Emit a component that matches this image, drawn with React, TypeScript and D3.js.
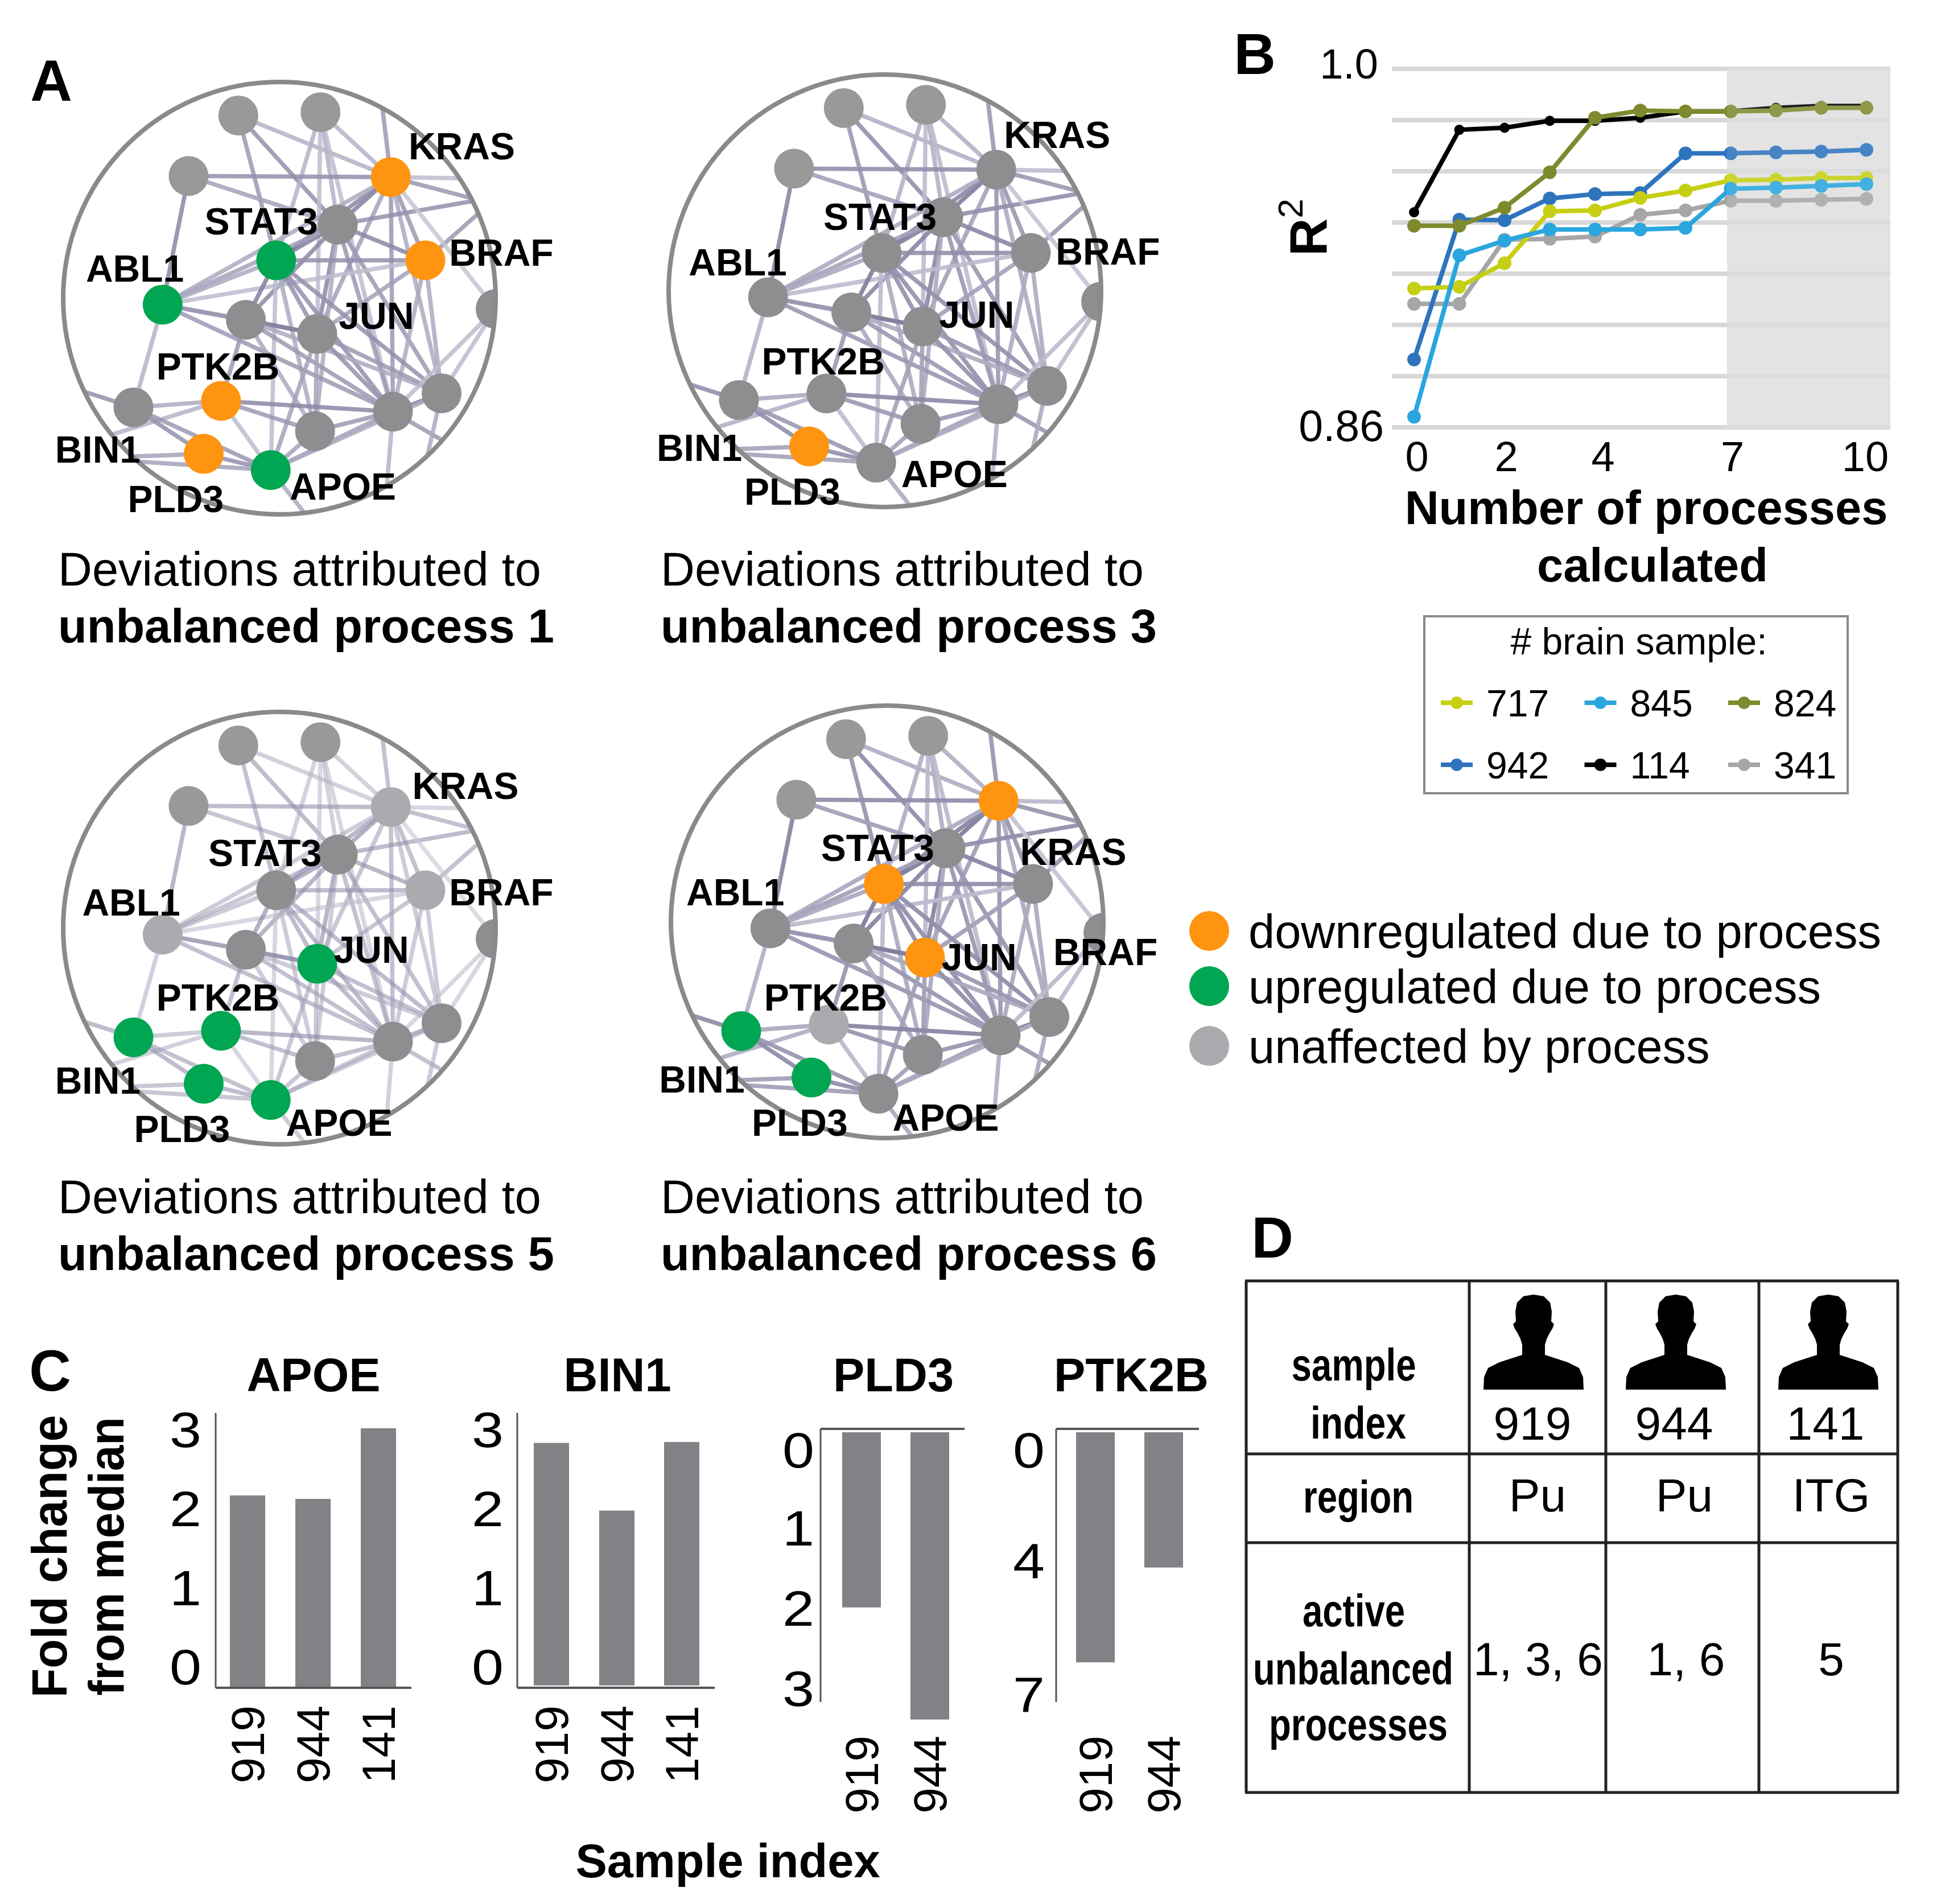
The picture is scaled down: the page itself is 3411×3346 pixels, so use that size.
import React, { useRef, useEffect } from 'react';
import * as d3 from 'd3';

const FONT = '"Liberation Sans", Arial, sans-serif';

// ---- panel A: the network layout, in units of the enclosing circle's radius
const netNodes: [string, number, number][] = [
  ['top1', -0.19, -0.845], ['top2', 0.19, -0.86], ['n3', -0.42, -0.565],
  ['KRAS', 0.515, -0.56], ['hub', 0.27, -0.34], ['BRAF', 0.675, -0.175],
  ['STAT3', -0.015, -0.175], ['ABL1', -0.54, 0.03], ['p', -0.155, 0.1],
  ['JUN', 0.175, 0.165], ['edge', 1.0, 0.05], ['r2', 0.75, 0.44],
  ['r1', 0.525, 0.525], ['b', 0.165, 0.615], ['PTK2B', -0.27, 0.475],
  ['BIN1', -0.675, 0.505], ['PLD3', -0.35, 0.72], ['APOE', -0.04, 0.795],
];
// neighbours that fall outside the circle, only their edges show
const netOuter: [string, number, number][] = [
  ['x1', 0.45, -1.1], ['x2', 1.05, -0.42], ['x3', 1.1, -0.485], ['x4', 1.1, -0.55],
  ['x5', 1.0, 0.8], ['x6', 0.2, 1.1], ['x7', -1.1, 0.37], ['x8', -1.0, 0.7],
  ['x9', 0.47, 1.2], ['x10', 0.6, 1.1], ['x11', -0.9, 0.74],
];
const netEdges: [string, string, number][] = [
  ['top1', 'KRAS', 0.4], ['top1', 'STAT3', 0.7], ['top1', 'hub', 0.8],
  ['top2', 'hub', 0.4], ['top2', 'STAT3', 0.4], ['top2', 'KRAS', 0.4], ['top2', 'JUN', 0.3], ['top2', 'r1', 0.3],
  ['n3', 'KRAS', 0.8], ['n3', 'hub', 0.6], ['n3', 'ABL1', 0.9],
  ['KRAS', 'hub', 1], ['KRAS', 'STAT3', 0.9], ['KRAS', 'BRAF', 0.7], ['KRAS', 'JUN', 0.6], ['KRAS', 'r1', 0.7],
  ['KRAS', 'r2', 0.5], ['KRAS', 'x1', 0.7], ['KRAS', 'x2', 0.7], ['KRAS', 'ABL1', 0.5], ['KRAS', 'x4', 0.3],
  ['hub', 'BRAF', 0.9], ['hub', 'STAT3', 1], ['hub', 'p', 0.9], ['hub', 'ABL1', 0.6], ['hub', 'JUN', 0.9],
  ['hub', 'r1', 0.7], ['hub', 'r2', 0.7], ['hub', 'x3', 0.8], ['hub', 'b', 0.5],
  ['BRAF', 'STAT3', 0.8], ['BRAF', 'JUN', 0.6], ['BRAF', 'x4', 0.7], ['BRAF', 'r1', 0.5], ['BRAF', 'r2', 0.5], ['BRAF', 'ABL1', 0.3],
  ['STAT3', 'ABL1', 0.5], ['STAT3', 'p', 1], ['STAT3', 'JUN', 0.8], ['STAT3', 'r1', 0.8], ['STAT3', 'r2', 0.8],
  ['STAT3', 'b', 0.5], ['STAT3', 'APOE', 0.3],
  ['ABL1', 'p', 0.8], ['ABL1', 'JUN', 0.7], ['ABL1', 'r1', 0.7], ['ABL1', 'BIN1', 0.4],
  ['p', 'JUN', 1], ['p', 'r1', 0.7], ['p', 'r2', 0.5], ['p', 'PTK2B', 0.7], ['p', 'b', 0.5],
  ['JUN', 'r1', 0.8], ['JUN', 'r2', 0.7], ['JUN', 'b', 0.6], ['JUN', 'APOE', 0.6],
  ['edge', 'r2', 0.3], ['edge', 'r1', 0.3], ['edge', 'KRAS', 0.2],
  ['r1', 'r2', 1], ['r1', 'b', 0.7], ['r1', 'PTK2B', 0.9], ['r1', 'APOE', 0.6], ['r1', 'x5', 0.7], ['r1', 'x9', 0.4],
  ['r2', 'x10', 0.5], ['r2', 'APOE', 0.5],
  ['b', 'APOE', 0.6], ['b', 'PTK2B', 0.7],
  ['PTK2B', 'BIN1', 0.5], ['PTK2B', 'APOE', 0.3], ['PTK2B', 'x8', 0.4],
  ['BIN1', 'PLD3', 0.8], ['BIN1', 'APOE', 0.7], ['BIN1', 'x7', 0.8],
  ['PLD3', 'APOE', 0.8], ['PLD3', 'x11', 0.6], ['APOE', 'x11', 0.6], ['APOE', 'x6', 0.5],
];

const netTitles = ['unbalanced process 1', 'unbalanced process 3', 'unbalanced process 5', 'unbalanced process 6'];
const netCenters: [number, number][] = [[491, 524], [1555, 511], [491, 1631], [1559, 1620]];
const netEdgeOpacity = [0.85, 0.9, 0.6, 0.95];
const netDown = [['KRAS', 'BRAF', 'PTK2B', 'PLD3'], ['PLD3'], [], ['KRAS', 'STAT3', 'JUN']];
const netUp = [['STAT3', 'ABL1', 'APOE'], [], ['JUN', 'PTK2B', 'BIN1', 'PLD3', 'APOE'], ['BIN1', 'PLD3']];
const netFaint = [[], [], ['KRAS', 'BRAF', 'ABL1'], ['PTK2B']];
const geneNames = ['KRAS', 'BRAF', 'STAT3', 'ABL1', 'JUN', 'PTK2B', 'BIN1', 'PLD3', 'APOE'];
// label centres per panel, in the 1568-wide page coordinates
const geneLabelPos: [number, number][][] = [
  [[373, 118], [405, 204], [211, 179], [109, 217], [304, 255], [176, 296], [79, 363], [142, 403], [277, 393]],
  [[854, 109], [895, 203], [711, 175], [596, 212], [789, 254], [665, 292], [565, 362], [640, 397], [771, 383]],
  [[376, 635], [405, 721], [214, 689], [106, 729], [300, 767], [176, 806], [79, 873], [147, 912], [274, 907]],
  [[867, 688], [893, 769], [709, 685], [594, 721], [791, 773], [667, 806], [567, 872], [646, 907], [764, 903]],
];

// ---- panel B
const processes = d3.range(0, 11);
const processTicks = [0, 2, 4, 7, 10];
const values717 = [0.9142, 0.9149, 0.9241, 0.9444, 0.9447, 0.9496, 0.9525, 0.9565, 0.9567, 0.9574, 0.9574];
const values845 = [0.8641, 0.9272, 0.9329, 0.9373, 0.9373, 0.9373, 0.9379, 0.9532, 0.9536, 0.9543, 0.955];
const values824 = [0.9387, 0.9387, 0.9458, 0.9596, 0.9809, 0.9837, 0.9834, 0.9834, 0.9837, 0.9848, 0.9848];
const values942 = [0.8865, 0.9411, 0.9409, 0.9494, 0.9511, 0.9515, 0.967, 0.967, 0.9674, 0.9677, 0.9684];
const values114 = [0.944, 0.9762, 0.977, 0.9797, 0.9797, 0.9809, 0.9834, 0.9834, 0.9848, 0.9855, 0.9855];
const values341 = [0.9082, 0.9082, 0.9333, 0.9336, 0.9345, 0.943, 0.9447, 0.9485, 0.9485, 0.9489, 0.9492];
const sampleNames = ['717', '845', '824', '942', '114', '341'];
const sampleColors = ['#c6cf14', '#2aa6de', '#7f8a2e', '#2e74bd', '#000000', '#a6a6a6'];
const sampleValues = [values717, values845, values824, values942, values114, values341];
const drawOrder = [5, 3, 4, 0, 1, 2];

// ---- panel C
const barSamples = ['919', '944', '141'];
const apoeValues = [2.22, 2.18, 3.0];
const bin1Values = [2.83, 2.04, 2.84];
const pld3Values = [2.0, 3.28];
const ptk2bValues = [5.97, 3.51];

// ---- panel D
const tableSamples = ['919', '944', '141'];
const tableRegions = ['Pu', 'Pu', 'ITG'];
const tableProcesses = ['1, 3, 6', '1, 6', '5'];

const App: React.FC = () => {
  const ref = useRef<SVGSVGElement>(null);

  useEffect(() => {
    const svg = d3.select(ref.current);
    svg.selectAll('*').remove();

    const k = 3411 / 1568;
    const txt = (g: any, x: number, y: number, s: string, o: any = {}) => {
      const t = g.append('text')
        .attr('x', x).attr('y', y)
        .attr('font-family', FONT)
        .attr('font-size', o.size ?? 83)
        .attr('font-weight', o.bold ? 'bold' : 'normal')
        .attr('text-anchor', o.anchor ?? 'middle')
        .attr('fill', '#000')
        .text(s);
      if (o.rotate) t.attr('transform', `rotate(${o.rotate} ${x} ${y})`);
      if (o.len) t.attr('textLength', o.len).attr('lengthAdjust', 'spacingAndGlyphs');
      return t;
    };

    txt(svg, 90, 177, 'A', { size: 102, bold: true });
    txt(svg, 2205, 130, 'B', { size: 102, bold: true });
    txt(svg, 88, 2444, 'C', { size: 102, bold: true });
    txt(svg, 2236, 2210, 'D', { size: 102, bold: true });

    // ---- A
    const R = 380;
    const allNodes = new Map(netNodes.concat(netOuter).map(d => [d[0], d]));
    const edgeColor = d3.scaleLinear<string>().domain([0, 1]).range(['#d6d6e2', '#827f9e']);
    const defs = svg.append('defs');

    netCenters.forEach(([cx, cy], i) => {
      const px = d3.scaleLinear().domain([-1, 1]).range([cx - R, cx + R]);
      const py = d3.scaleLinear().domain([-1, 1]).range([cy - R, cy + R]);
      defs.append('clipPath').attr('id', `net${i}`)
        .append('circle').attr('cx', cx).attr('cy', cy).attr('r', R);

      const g = svg.append('g');
      const inner = g.append('g').attr('clip-path', `url(#net${i})`);
      inner.selectAll('line').data(netEdges).enter().append('line')
        .attr('x1', d => px(allNodes.get(d[0])![1]))
        .attr('y1', d => py(allNodes.get(d[0])![2]))
        .attr('x2', d => px(allNodes.get(d[1])![1]))
        .attr('y2', d => py(allNodes.get(d[1])![2]))
        .attr('stroke', d => edgeColor(d[2]))
        .attr('stroke-width', 7.5)
        .attr('opacity', netEdgeOpacity[i]);
      inner.selectAll('circle').data(netNodes).enter().append('circle')
        .attr('cx', d => px(d[1]))
        .attr('cy', d => py(d[2]))
        .attr('r', 35)
        .attr('fill', d => {
          if (netDown[i].includes(d[0])) return '#ff9410';
          if (netUp[i].includes(d[0])) return '#00a651';
          if (netFaint[i].includes(d[0])) return '#a9abae';
          return ['top1', 'top2', 'n3'].includes(d[0]) ? '#999999' : '#8d8e90';
        });
      g.append('circle').attr('cx', cx).attr('cy', cy).attr('r', R)
        .attr('fill', 'none').attr('stroke', '#8a8a8a').attr('stroke-width', 8);

      geneNames.forEach((name, j) => {
        const [lx, ly] = geneLabelPos[i][j];
        txt(g, lx * k, ly * k + 23, name, { size: 66, bold: true });
      });

      const capX = i % 2 === 0 ? 102 : 1161;
      const capY = i < 2 ? 1029 : 2132;
      txt(svg, capX, capY, 'Deviations attributed to', { anchor: 'start' });
      txt(svg, capX, capY + 100, netTitles[i], { anchor: 'start', bold: true });
    });

    // colour key for panel A
    const keyItems: [string, string][] = [
      ['#ff9410', 'downregulated due to process'],
      ['#00a651', 'upregulated due to process'],
      ['#a9abae', 'unaffected by process'],
    ];
    const keyY = d3.scaleOrdinal<number>().domain(keyItems.map(d => d[1])).range([1636, 1733, 1838]);
    keyItems.forEach(([color, label]) => {
      svg.append('circle').attr('cx', 2125).attr('cy', keyY(label)).attr('r', 35).attr('fill', color);
      txt(svg, 2194, keyY(label) + 30, label, { anchor: 'start' });
    });

    // ---- B
    const x = d3.scaleLinear().domain([0, 10]).range([2485, 3280]);
    const y = d3.scaleLinear().domain([0.86, 1.0]).range([751, 121]);
    const shadeFrom = 3035;
    const shadeTo = 3322;
    const b = svg.append('g');
    b.append('rect').attr('x', shadeFrom).attr('y', 117).attr('width', shadeTo - shadeFrom).attr('height', 637).attr('fill', '#e0e0e0');
    b.selectAll('.grid').data(d3.range(0.86, 1.001, 0.02)).enter().append('line')
      .attr('x1', 2446).attr('x2', shadeTo)
      .attr('y1', d => y(d)).attr('y2', d => y(d))
      .attr('stroke', '#d8d8d8').attr('stroke-width', 8);

    const line = d3.line<number>().x((_, i) => x(processes[i])).y(d => y(d));
    drawOrder.forEach(s => {
      b.append('path').attr('d', line(sampleValues[s])!)
        .attr('fill', 'none').attr('stroke', sampleColors[s]).attr('stroke-width', 8);
      b.selectAll(`.pt${s}`).data(sampleValues[s]).enter().append('circle')
        .attr('cx', (_, i) => x(processes[i])).attr('cy', d => y(d))
        .attr('r', s === 4 ? 9 : 12).attr('fill', sampleColors[s]);
    });
    b.append('rect').attr('x', shadeFrom).attr('y', 117).attr('width', shadeTo - shadeFrom).attr('height', 637).attr('fill', '#fff').attr('opacity', 0.12);

    txt(b, 2422, 138, '1.0', { anchor: 'end', size: 74 });
    txt(b, 2432, 775, '0.86', { anchor: 'end', size: 77 });
    processTicks.forEach(t => {
      const nudge = t === 4 ? 14 : t === 0 ? 5 : t === 10 ? -2 : 3;
      txt(b, x(t) + nudge, 828, String(t), { size: 74 });
    });
    const r2 = txt(b, 2331, 450, 'R', { anchor: 'start', size: 92, bold: true, rotate: -90 });
    r2.append('tspan').attr('font-size', 62).attr('font-weight', 'normal').attr('dy', -42).text('2');
    txt(b, 2893, 921, 'Number of processes', { bold: true });
    txt(b, 2904, 1022, 'calculated', { bold: true });

    b.append('rect').attr('x', 2503).attr('y', 1083).attr('width', 744).attr('height', 311)
      .attr('fill', 'none').attr('stroke', '#8a8a8a').attr('stroke-width', 4);
    txt(b, 2880, 1150, '# brain sample:', { size: 66 });
    const legendOrder = [0, 1, 2, 3, 4, 5];
    const legendX = d3.scalePoint<number>().domain([0, 1, 2]).range([2560, 3065]);
    const legendY = d3.scalePoint<number>().domain([0, 1]).range([1235, 1344]);
    legendOrder.forEach((s, i) => {
      const lx = legendX(i % 3)!;
      const ly = legendY(Math.floor(i / 3))!;
      b.append('line').attr('x1', lx - 28).attr('x2', lx + 28).attr('y1', ly).attr('y2', ly)
        .attr('stroke', sampleColors[s]).attr('stroke-width', 8);
      b.append('circle').attr('cx', lx).attr('cy', ly).attr('r', 11).attr('fill', sampleColors[s]);
      txt(b, lx + 52, ly + 24, sampleNames[s], { anchor: 'start', size: 66 });
    });

    // ---- C
    const barColor = '#808285';
    const axisColor = '#555';
    const upBars = (title: string, tx: number, axisX: number, lineEnd: number, values: number[], centers: number[], barW: number, tickX: number, zero: number) => {
      const g = svg.append('g');
      const yy = d3.scaleLinear().domain([0, 3]).range([zero, 2510]);
      const tickY = d3.scaleLinear().domain([0, 3]).range([2929, 2512]);
      txt(g, tx, 2445, title, { bold: true });
      g.append('line').attr('x1', axisX).attr('x2', axisX).attr('y1', 2483).attr('y2', 2966).attr('stroke', axisColor).attr('stroke-width', 3);
      g.append('line').attr('x1', axisX).attr('x2', lineEnd).attr('y1', 2966).attr('y2', 2966).attr('stroke', axisColor).attr('stroke-width', 4);
      g.selectAll('rect').data(values).enter().append('rect')
        .attr('x', (_, i) => centers[i] - barW / 2).attr('width', barW)
        .attr('y', d => yy(d)).attr('height', d => zero - yy(d))
        .attr('fill', barColor);
      [0, 1, 2, 3].forEach(t => txt(g, tickX, tickY(t) + 31, String(t), { size: 88, len: 56 }));
      values.forEach((_, i) => txt(g, centers[i] + 29, 3134, barSamples[i], { anchor: 'start', size: 82, rotate: -90 }));
    };
    upBars('APOE', 551, 379, 723, apoeValues, [435, 550, 665], 62, 326, 2964);
    upBars('BIN1', 1085, 909, 1256, bin1Values, [969, 1084, 1198], 62, 857, 2962);

    const downBars = (title: string, tx: number, axisX: number, lineEnd: number, values: number[], centers: number[], dom: number, ticks: number[], tickPos: number[], tickX: number) => {
      const g = svg.append('g');
      const yy = d3.scaleLinear().domain([0, dom]).range([2517, 2991]);
      txt(g, tx, 2445, title, { bold: true });
      g.append('line').attr('x1', axisX).attr('x2', axisX).attr('y1', 2511).attr('y2', 2991).attr('stroke', axisColor).attr('stroke-width', 3);
      g.append('line').attr('x1', axisX).attr('x2', lineEnd).attr('y1', 2511).attr('y2', 2511).attr('stroke', axisColor).attr('stroke-width', 4);
      g.selectAll('rect').data(values).enter().append('rect')
        .attr('x', (_, i) => centers[i] - 34).attr('width', 68)
        .attr('y', yy(0)).attr('height', d => yy(d) - yy(0))
        .attr('fill', barColor);
      ticks.forEach((t, i) => txt(g, tickX, tickPos[i] * k + 29, String(t), { size: 88, len: 56 }));
      values.forEach((_, i) => txt(g, centers[i] + 29, 3187, barSamples[i], { anchor: 'start', size: 82, rotate: -90 }));
    };
    downBars('PLD3', 1570, 1442, 1695, pld3Values, [1514, 1634], 3.08, [0, 1, 2, 3], [1172, 1235, 1300, 1365], 1403);
    downBars('PTK2B', 1988, 1856, 2107, ptk2bValues, [1925, 2045], 7, [0, 4, 7], [1172, 1262, 1370], 1808);

    txt(svg, 117, 2735, 'Fold change', { bold: true, size: 88, len: 497, rotate: -90 });
    txt(svg, 217, 2735, 'from median', { bold: true, size: 88, len: 490, rotate: -90 });
    txt(svg, 1279, 3299, 'Sample index', { bold: true });

    // ---- D
    const columns = [2190, 2582, 2822, 3091, 3335];
    const rows = [2251, 2555, 2711, 3150];
    const t = svg.append('g');
    columns.forEach(cx => t.append('line').attr('x1', cx).attr('x2', cx).attr('y1', rows[0]).attr('y2', rows[3]).attr('stroke', '#222').attr('stroke-width', 5));
    rows.forEach(ry => t.append('line').attr('x1', columns[0] - 2).attr('x2', columns[4] + 2).attr('y1', ry).attr('y2', ry).attr('stroke', '#222').attr('stroke-width', 5));

    const head: [number, number][] = [[0, 0], [18, 3], [29, 14], [32, 30], [31, 47], [36, 52], [33, 60], [28, 68], [23, 78], [20, 88], [20, 106], [60, 119], [80, 129], [87, 145], [88, 167]];
    const silhouette = head.concat(head.slice(1).reverse().map(([a, c]) => [-a, c] as [number, number]));
    const person = d3.line().curve(d3.curveLinear);
    [2695, 2945, 3213].forEach(cx => {
      t.append('path').attr('d', person(silhouette)! + 'Z')
        .attr('transform', `translate(${cx},2275)`).attr('fill', '#000');
    });

    const rowLabels: [string, number, number, number][] = [
      ['sample', 2379, 2426, 219], ['index', 2387, 2528, 168], ['region', 2387, 2658, 194],
      ['active', 2379, 2858, 180], ['unbalanced', 2378, 2960, 352], ['processes', 2387, 3058, 314],
    ];
    rowLabels.forEach(([s, lx, ly, len]) => txt(t, lx, ly, s, { bold: true, size: 80, len }));
    tableSamples.forEach((s, i) => txt(t, [2693, 2942, 3208][i], 2530, s, { size: 82 }));
    tableRegions.forEach((s, i) => txt(t, [2702, 2960, 3218][i], 2656, s, { size: 82 }));
    tableProcesses.forEach((s, i) => txt(t, [2703, 2963, 3218][i], 2944, s, { size: 82 }));
  }, []);

  return (
    <svg
      ref={ref}
      width={3411}
      height={3346}
      viewBox="0 0 3411 3346"
      style={{ position: 'absolute', left: 0, top: 0, background: '#fff' }}
    />
  );
};

export default App;
